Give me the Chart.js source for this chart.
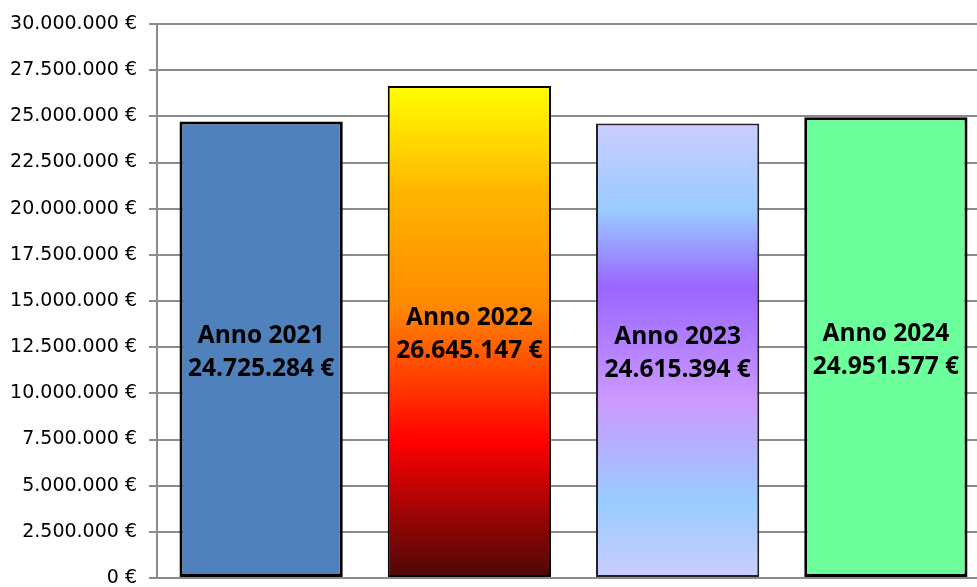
<!DOCTYPE html>
<html>
<head>
<meta charset="utf-8">
<script src="https://cdn.jsdelivr.net/npm/chart.js@4/dist/chart.umd.min.js"></script>
<style>
html,body{margin:0;padding:0;background:#fff;overflow:hidden;width:977px;height:587px;}
canvas{display:block;}
</style>
</head>
<body>
<canvas id="c" width="990" height="587"></canvas>
<script>
const categories = ['Anno 2021', 'Anno 2022', 'Anno 2023', 'Anno 2024'];
const values = [24725284, 26645147, 24615394, 24951577];
const valueLabels = ['24.725.284 €', '26.645.147 €', '24.615.394 €', '24.951.577 €'];
const tickLabels = ['0 €', '2.500.000 €', '5.000.000 €', '7.500.000 €', '10.000.000 €', '12.500.000 €',
  '15.000.000 €', '17.500.000 €', '20.000.000 €', '22.500.000 €', '25.000.000 €', '27.500.000 €', '30.000.000 €'];
const yMax = 30000000;
const yStep = 2500000;

const gradientStops = [
  null,
  [[0, '#ffff00'], [0.22, '#ffb400'], [0.45, '#ff8800'], [0.72, '#ff0000'], [1, '#4a0808']],
  [[0, '#ccccff'], [0.19, '#99ccff'], [0.36, '#9966ff'], [0.61, '#cc99ff'], [0.83, '#99ccff'], [1, '#ccccff']],
  null
];
const solidColors = ['#4f81bd', null, null, '#6cff9c'];
const borderColors = ['#000000', '#000000', '#222222', '#000000'];
const borderWidths = [3, 2, 2, 3];

function barFill(ctx) {
  const i = ctx.dataIndex;
  if (!gradientStops[i]) return solidColors[i];
  const chart = ctx.chart;
  if (!chart.chartArea || !chart.scales.y) return '#ccc';
  const y = chart.scales.y;
  const top = y.getPixelForValue(values[i]);
  const bottom = y.getPixelForValue(0);
  const g = chart.ctx.createLinearGradient(0, top, 0, bottom);
  gradientStops[i].forEach(s => g.addColorStop(s[0], s[1]));
  return g;
}

const labelPlugin = {
  id: 'barLabels',
  afterDatasetsDraw(chart) {
    const meta = chart.getDatasetMeta(0);
    const c = chart.ctx;
    c.save();
    c.font = 'bold 24.5px "Open Sans", Lato, sans-serif';
    c.fillStyle = '#000';
    c.textAlign = 'center';
    c.textBaseline = 'middle';
    meta.data.forEach((bar, i) => {
      const mid = (bar.y + bar.base) / 2 + 3;
      c.fillText(categories[i], bar.x, mid - 16.5);
      c.fillText(valueLabels[i], bar.x, mid + 16.5);
    });
    c.restore();
  }
};

new Chart(document.getElementById('c'), {
  type: 'bar',
  data: {
    labels: categories,
    datasets: [{
      data: values,
      backgroundColor: barFill,
      borderColor: borderColors,
      borderWidth: borderWidths,
      borderSkipped: false,
      barPercentage: 0.784,
      categoryPercentage: 1.0
    }]
  },
  options: {
    responsive: false,
    animation: false,
    devicePixelRatio: 1,
    layout: { padding: { top: 24, bottom: 9, left: 0, right: 0 } },
    plugins: { legend: { display: false }, tooltip: { enabled: false } },
    scales: {
      x: { display: false },
      y: {
        min: 0,
        max: yMax,
        ticks: {
          stepSize: yStep,
          padding: 12,
          color: '#000',
          font: { family: '"DejaVu Sans", Verdana, sans-serif', size: 19, lineHeight: 0.9 },
          callback: (v) => tickLabels[Math.round(v / yStep)]
        },
        grid: { color: '#8c8c8c', lineWidth: 2, tickLength: 8, drawTicks: true },
        border: { color: '#8c8c8c', width: 2 },
        afterFit(scale) { scale.width = 157; scale.paddingTop = 0; scale.paddingBottom = 0; }
      }
    }
  },
  plugins: [labelPlugin]
});
</script>
</body>
</html>
